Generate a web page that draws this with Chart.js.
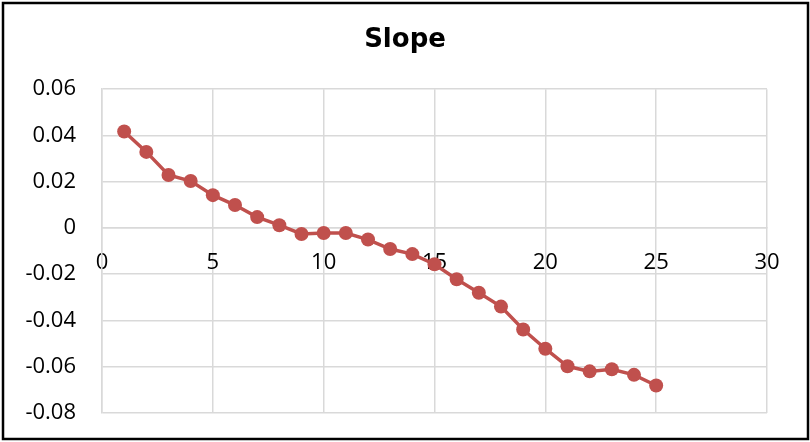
<!DOCTYPE html>
<html>
<head>
<meta charset="utf-8">
<script src="https://cdn.jsdelivr.net/npm/chart.js@4"></script>
<style>
  body { margin: 0; background: #fff; }
  #wrap { width: 810px; height: 442px; position: relative; }
</style>
</head>
<body>
<div id="wrap"><canvas id="slopeChart"></canvas></div>
<script>
// Set Data
const xValues = [1, 2, 3, 4, 5, 6, 7, 8, 9, 10, 11, 12, 13, 14, 15, 16, 17, 18, 19, 20, 21, 22, 23, 24, 25];
const slopeValues = [
  0.0417, 0.0329, 0.0229, 0.0203, 0.0142, 0.0099, 0.0047, 0.0012, -0.0026, -0.0022,
  -0.0022, -0.005, -0.0091, -0.0113, -0.0157, -0.0222, -0.028, -0.034, -0.0439, -0.0522,
  -0.0598, -0.062, -0.0611, -0.0635, -0.0681,
];
const xTicks = [0, 5, 10, 15, 20, 25, 30];
const yTicks = [-0.08, -0.06, -0.04, -0.02, 0, 0.02, 0.04, 0.06];

const points = xValues.map((x, i) => ({ x: x, y: slopeValues[i] }));
const lineColor = "#C0504D";
const gridColor = "#d9d9d9";

// black frame round the whole chart
const framePlugin = {
  id: "frame",
  afterDraw(chart) {
    const ctx = chart.ctx;
    ctx.save();
    ctx.strokeStyle = "#000";
    ctx.lineWidth = 2.5;
    ctx.strokeRect(3, 3, 805, 436);
    ctx.restore();
  },
};

new Chart("slopeChart", {
  type: "scatter",
  data: {
    datasets: [
      {
        label: "Slope",
        data: points,
        showLine: true,
        borderColor: lineColor,
        backgroundColor: lineColor,
        borderWidth: 3.5,
        pointRadius: 7,
        pointHoverRadius: 7,
        pointBorderWidth: 0,
      },
    ],
  },
  options: {
    responsive: true,
    maintainAspectRatio: false,
    animation: false,
    layout: { padding: { left: 0, right: 0, top: 0, bottom: 29 } },
    plugins: {
      legend: { display: false },
      tooltip: { enabled: false },
      title: {
        display: true,
        text: "Slope",
        color: "#000",
        font: { family: "DejaVu Sans", size: 26, weight: "bold" },
        padding: { top: 25, bottom: 33 },
      },
    },
    scales: {
      x: {
        type: "linear",
        position: { y: 0 },
        min: 0,
        max: 30,
        afterBuildTicks: (axis) => {
          axis.ticks = xTicks.map((v) => ({ value: v }));
        },
        grid: { color: gridColor, lineWidth: 1.5, drawTicks: false },
        border: { color: gridColor, width: 1.5 },
        ticks: {
          color: "#000",
          padding: 22,
          maxRotation: 0,
          font: { family: "Open Sans", size: 22 },
        },
      },
      y: {
        type: "linear",
        min: -0.08,
        max: 0.06,
        afterBuildTicks: (axis) => {
          axis.ticks = yTicks.map((v) => ({ value: v }));
        },
        afterFit: (axis) => {
          axis.width = 102;
        },
        // invisible tick marks make the gap between labels and axis
        grid: {
          color: gridColor,
          lineWidth: 1.5,
          drawTicks: true,
          tickLength: 26,
          tickColor: "rgba(0,0,0,0)",
        },
        border: { color: gridColor, width: 1.5 },
        ticks: {
          color: "#000",
          padding: 0,
          font: { family: "Open Sans", size: 22 },
          callback: (v) => Number(v.toFixed(2)).toString(),
        },
      },
      // empty right axis, only keeps the space on the right side
      yRight: {
        type: "linear",
        position: "right",
        afterFit: (axis) => {
          axis.width = 43;
        },
        grid: { display: false },
        border: { display: false },
        ticks: { display: false },
      },
    },
  },
  plugins: [framePlugin],
});
</script>
</body>
</html>
